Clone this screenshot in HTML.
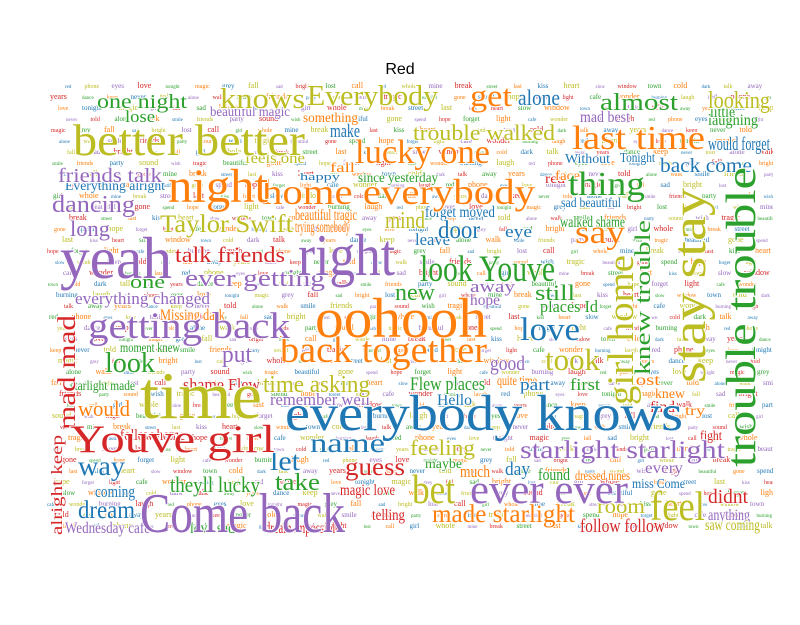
<!DOCTYPE html>
<html><head><meta charset="utf-8"><style>
html,body{margin:0;padding:0;background:#fff;width:800px;height:625px;overflow:hidden}
svg{display:block}
text{font-family:"Liberation Serif",serif}
</style></head><body>
<svg id="chart" width="800" height="625" viewBox="0 0 800 625">
<text x="400" y="74" text-anchor="middle" font-size="16" fill="#000" style="font-family:'Liberation Sans',sans-serif">Red</text>
<clipPath id="plotclip"><rect x="45" y="80" width="728" height="458"/></clipPath>
<g id="filler" clip-path="url(#plotclip)"></g>
<g id="words"></g>
</svg>
<script>
// word cloud data: words, font sizes (weights), colours
const words = ["time","everybody knows","Come back","yeah","right","oohooh","night","better better","home everybody","stay stay","trouble trouble","Youve girl","back together","lucky one","Everybody","knows","last time","get","look Youve","bet","ever ever","feel","getting back","Taylor Swift","mad mad","name","girl home","thing","say","love","way","dream","dancing","trouble walked","starlight starlight","made starlight","one night","alone","almost","looking","back come","feeling","ever getting","talk friends","friends talk","long","time asking","put","look","would","take","let","guess","new","door","mind","took","knew trouble","still","places Id","room","follow follow","didnt","theyll lucky","remember well","shame Flew","Flew places","coming","good","first","day","everything changed","one","would forget","magic love","telling","dream impossible","love sad","Wednesday cafe","alright keep","found","much","maybe","every","dressed nines","miss Come","anything","saw coming","follow home","Everything alright","beautiful magic","feels one","lose","Missing dark","moment knew","starlight made","since yesterday","forget moved","beautiful tragic","trying somebody","fall","happy","make","something","red","face","eye","leave","hope","away","quite time","part","Hello","laughing","little","mad best","Without","Tonight","sad beautiful","walked shame","lost","knew","find","try","fight"];
const sizes = [78,60,66,70,70,66,56,52,42,56,50,46,44,40,34,34,40,36,44,48,48,48,44,30,30,32,44,40,38,38,32,30,28,26,30,30,24,26,28,28,24,26,28,26,24,26,28,28,34,26,28,32,30,28,30,28,36,26,26,20,24,22,24,26,20,20,22,20,24,20,22,20,22,22,18,18,18,18,18,18,20,20,16,18,16,16,18,18,18,16,16,18,20,18,16,16,16,18,18,18,16,12,22,16,16,16,20,20,18,20,16,20,18,18,18,18,16,16,16,18,18,16,18,16,16,16,16];
const colors = ["#bcbd22","#1f77b4","#9467bd","#9467bd","#9467bd","#ff7f0e","#ff7f0e","#bcbd22","#ff7f0e","#bcbd22","#2ca02c","#d62728","#ff7f0e","#ff7f0e","#bcbd22","#bcbd22","#ff7f0e","#ff7f0e","#2ca02c","#bcbd22","#9467bd","#bcbd22","#9467bd","#bcbd22","#d62728","#1f77b4","#bcbd22","#2ca02c","#ff7f0e","#1f77b4","#1f77b4","#1f77b4","#9467bd","#bcbd22","#9467bd","#ff7f0e","#2ca02c","#1f77b4","#2ca02c","#bcbd22","#1f77b4","#bcbd22","#9467bd","#d62728","#9467bd","#9467bd","#bcbd22","#9467bd","#2ca02c","#ff7f0e","#2ca02c","#1f77b4","#d62728","#2ca02c","#1f77b4","#bcbd22","#bcbd22","#2ca02c","#2ca02c","#2ca02c","#bcbd22","#d62728","#d62728","#2ca02c","#9467bd","#d62728","#2ca02c","#1f77b4","#9467bd","#2ca02c","#1f77b4","#9467bd","#2ca02c","#1f77b4","#d62728","#d62728","#d62728","#2ca02c","#9467bd","#d62728","#2ca02c","#ff7f0e","#2ca02c","#9467bd","#ff7f0e","#1f77b4","#9467bd","#bcbd22","#d62728","#1f77b4","#9467bd","#bcbd22","#2ca02c","#ff7f0e","#2ca02c","#2ca02c","#2ca02c","#1f77b4","#ff7f0e","#ff7f0e","#ff7f0e","#1f77b4","#1f77b4","#ff7f0e","#d62728","#ff7f0e","#1f77b4","#1f77b4","#9467bd","#9467bd","#ff7f0e","#1f77b4","#1f77b4","#2ca02c","#2ca02c","#9467bd","#1f77b4","#1f77b4","#1f77b4","#2ca02c","#ff7f0e","#ff7f0e","#d62728","#ff7f0e","#d62728"];
// layout (placement of each word): left x, baseline y, width, vertical flag
const layout = [
[140,418,122,0],[285,430,398,0],[140,532,205,0],[60,278,112,0],[298,275,97,0],[315,337,172,0],
[168,202,100,0],[73,155,232,0],[262,204,273,0],[705,383,195,1],[755,467,300,1],[70,452,205,0],
[280,362,207,0],[355,163,135,0],[307,105,131,0],[220,108,85,0],[572,149,133,0],[470,106,42,0],
[420,281,135,0],[412,503,43,0],[470,503,158,0],[650,520,55,0],[88,338,202,0],[160,232,133,0],[75,430,115,1],
[310,452,75,0],[633,405,150,1],[568,195,77,0],[575,243,50,0],[520,340,60,0],[78,475,47,0],
[78,518,57,0],[52,212,83,0],[413,140,142,0],[520,458,205,0],[432,522,143,0],[97,108,90,0],
[518,105,42,0],[600,110,78,0],[708,108,62,0],[660,172,92,0],[410,455,65,0],[185,286,140,0],
[175,262,110,0],[58,182,104,0],[70,236,40,0],[263,392,107,0],[222,362,30,0],[105,372,50,0],
[78,416,52,0],[275,490,45,0],[270,470,30,0],[345,475,60,0],[395,300,40,0],[438,238,42,0],
[385,228,40,0],[545,370,55,0],[650,375,155,1],[535,300,40,0],[540,312,58,0],[597,513,48,0],
[580,532,85,0],[708,503,40,0],[170,492,90,0],[270,405,100,0],[183,390,77,0],[410,390,75,0],
[95,497,40,0],[490,370,35,0],[570,390,30,0],[505,475,25,0],[75,304,135,0],[130,288,35,0],
[708,150,62,0],[340,495,55,0],[372,520,33,0],[265,533,75,0],[190,533,45,0],[65,533,85,0],
[62,535,100,1],[538,480,32,0],[460,477,30,0],[425,468,37,0],[645,473,38,0],[575,480,55,0],
[632,488,53,0],[708,520,42,0],[705,530,55,0],[120,440,65,0],[65,190,100,0],[210,116,80,0],
[245,163,60,0],[125,122,30,0],[160,320,65,0],[120,352,60,0],[70,390,65,0],[358,182,80,0],
[425,217,70,0],[295,220,62,0],[295,232,55,0],[330,172,25,0],[300,180,40,0],[330,137,30,0],
[303,122,55,0],[545,183,20,0],[555,180,25,0],[505,237,27,0],[415,245,35,0],[470,305,30,0],
[470,292,45,0],[497,385,40,0],[520,390,30,0],[437,405,35,0],[708,125,50,0],[710,117,25,0],
[580,122,50,0],[565,163,45,0],[620,162,35,0],[561,207,60,0],[560,227,65,0],[630,385,30,0],
[655,398,30,0],[650,412,25,0],[685,415,20,0],[700,440,22,0]];
// small filler vocabulary
const fillerWords = ["red","phone","eyes","love","tonight","magic","grey","fall","sad","bright","lost","call","girl","whole","mine","break","street","last","kiss","heart","slow","window","town","cold","dark","talk","away","years","dance","keep","never","told","alone","walk","smile","friends","party","sound","wish","tragic","beautiful","gone","spend","hope","forget","light","cafe","wonder","burning","laugh"];
const fillerColors = ["#1f77b4","#ff7f0e","#2ca02c","#d62728","#9467bd","#bcbd22"];

const NS="http://www.w3.org/2000/svg";
const fg=document.getElementById('filler');
let k=0;
for(let y=88;y<538;y+=11){
  let x=47+((y*7)%23);
  while(x<765){
    const w=fillerWords[k%fillerWords.length];
    const fs=5+(k%4);
    const t=document.createElementNS(NS,'text');
    
    
    t.setAttribute('x',x);t.setAttribute('y',y);
    t.setAttribute('font-size',fs);
    t.setAttribute('fill',fillerColors[(k*5)%6]);
    t.textContent=w;
    fg.appendChild(t);
    x+=w.length*fs*0.5+12;
    k++;
  }
}
const wg=document.getElementById('words');
const order=words.map((w,i)=>i).sort((a,b)=>sizes[a]-sizes[b]);
order.forEach(i=>{
  const w=words[i];
  const [x,y,wd,v]=layout[i];
  const t=document.createElementNS(NS,'text');
  
  
  t.setAttribute('x',x);t.setAttribute('y',y);
  t.setAttribute('font-size',sizes[i]*0.85);
  t.setAttribute('fill',colors[i]);
  t.setAttribute('textLength',wd);
  t.setAttribute('lengthAdjust','spacingAndGlyphs');
  t.setAttribute('stroke','#fff');
  t.setAttribute('stroke-width',2);
  t.setAttribute('paint-order','stroke');
  if(v)t.setAttribute('transform','rotate(-90 '+x+' '+y+')');
  t.textContent=w;
  wg.appendChild(t);
});
</script>
</body></html>
